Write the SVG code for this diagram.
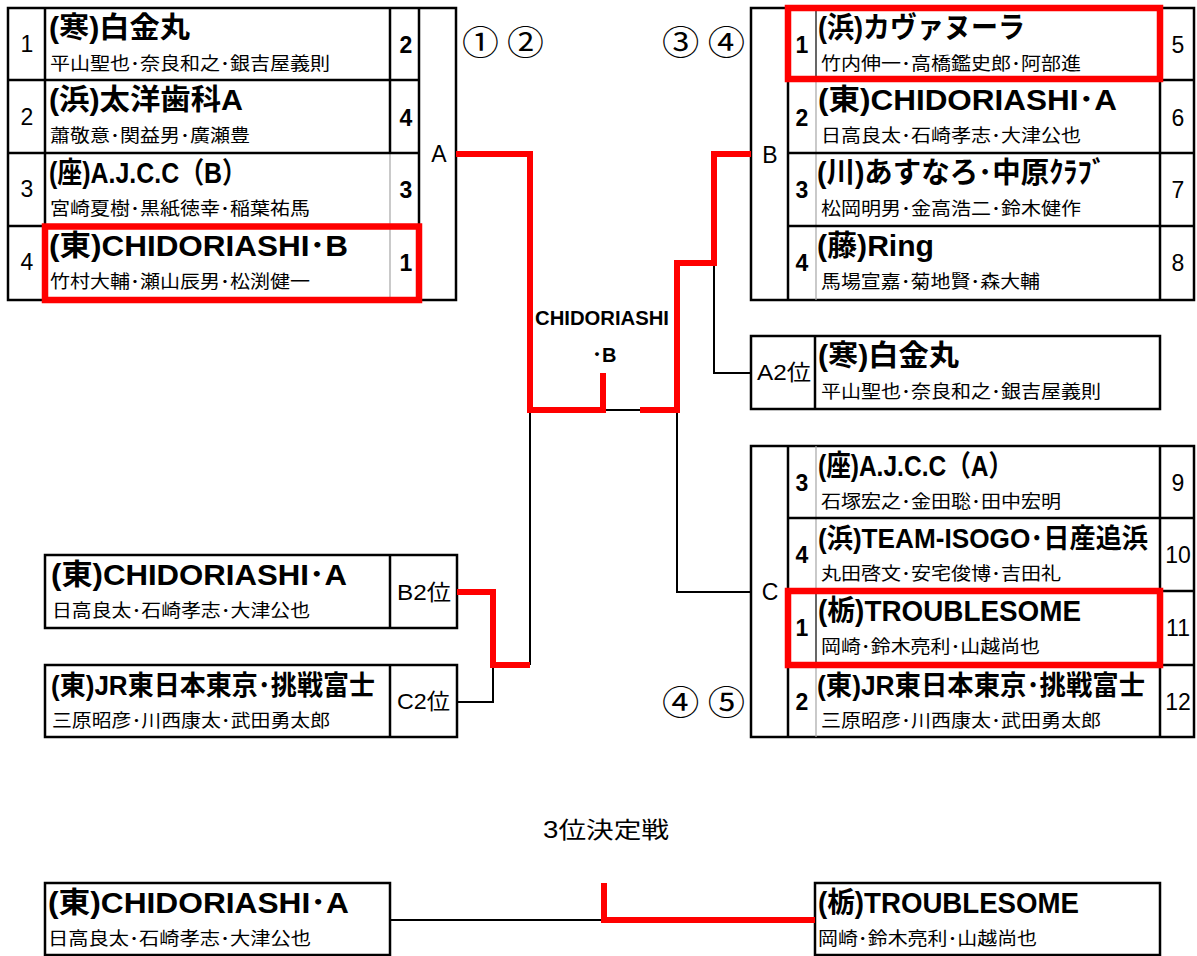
<svg xmlns="http://www.w3.org/2000/svg" width="1197" height="956" viewBox="0 0 1197 956">
<style>
text{font-family:"Liberation Sans","Noto Sans CJK JP",sans-serif;fill:#000}
.t{font-size:29px;font-weight:bold}
.ts{font-size:27px;font-weight:bold}
.p{font-size:18px}
.n{font-size:23px;text-anchor:middle}
.nb{font-size:23px;font-weight:bold;text-anchor:middle}
.lab{font-size:23px;text-anchor:middle}
.pos{font-size:22px}
.cir{font-family:"Noto Sans CJK JP",sans-serif;font-size:34px}
.mid{font-size:20px;font-weight:bold}
.fr{fill:none;stroke:#000;stroke-width:2.5}
.ln{stroke:#000;stroke-width:2.5;fill:none}
.th{stroke:#000;stroke-width:1.2;fill:none}
.gr{stroke:#a6a6a6;stroke-width:1.2;fill:none}
.cn{stroke:#000;stroke-width:2;fill:none}
.rd{stroke:#ff0000;stroke-width:6;fill:none;stroke-linejoin:miter;stroke-linecap:butt}
.hl{fill:none;stroke:#ff0000;stroke-width:6.5}
</style>

<!-- Block A frame -->
<g id="block-a">
<rect class="fr" x="8" y="8" width="448" height="292"/>
<line class="ln" x1="45" y1="8" x2="45" y2="300"/>
<line class="ln" x1="390" y1="8" x2="390" y2="153"/>
<line class="gr" x1="390" y1="153" x2="390" y2="300"/>
<line class="ln" x1="419" y1="8" x2="419" y2="300"/>
<line class="ln" x1="8" y1="80" x2="419" y2="80"/>
<line class="ln" x1="8" y1="153" x2="419" y2="153"/>
<line class="ln" x1="8" y1="226" x2="419" y2="226"/>
<text class="lab" x="439" y="162">A</text>
<text class="cir" x="462" y="55" textLength="82" lengthAdjust="spacingAndGlyphs">① ②</text>
</g>
<g id="a1">
<text class="n" x="27" y="52">1</text>
<text class="t" x="49" y="38" textLength="141" lengthAdjust="spacingAndGlyphs">(寒)白金丸</text>
<text class="p" x="50" y="70" textLength="280" lengthAdjust="spacingAndGlyphs">平山聖也･奈良和之･銀吉屋義則</text>
<text class="nb" x="406" y="53">2</text>
</g>
<g id="a2">
<text class="n" x="27" y="125">2</text>
<text class="t" x="49" y="110" textLength="194" lengthAdjust="spacingAndGlyphs">(浜)太洋歯科A</text>
<text class="p" x="50" y="142" textLength="200" lengthAdjust="spacingAndGlyphs">蕭敬意･関益男･廣瀬豊</text>
<text class="nb" x="406" y="126">4</text>
</g>
<g id="a3">
<text class="n" x="27" y="197">3</text>
<text class="t" x="49" y="183" textLength="198" lengthAdjust="spacingAndGlyphs">(座)A.J.C.C（B）</text>
<text class="p" x="50" y="215" textLength="260" lengthAdjust="spacingAndGlyphs">宮崎夏樹･黒紙徳幸･稲葉祐馬</text>
<text class="nb" x="406" y="198">3</text>
</g>
<g id="a4">
<text class="n" x="27" y="270">4</text>
<text class="t" x="49" y="256" textLength="299" lengthAdjust="spacingAndGlyphs">(東)CHIDORIASHI･B</text>
<text class="p" x="50" y="288" textLength="260" lengthAdjust="spacingAndGlyphs">竹村大輔･瀬山辰男･松渕健一</text>
<text class="nb" x="406" y="271">1</text>
<rect class="hl" x="45" y="226.5" width="374" height="73.5"/>
</g>

<!-- Block B frame -->
<g id="block-b">
<rect class="fr" x="751" y="8" width="443" height="292"/>
<line class="ln" x1="788" y1="8" x2="788" y2="300"/>
<line class="th" x1="816" y1="8" x2="816" y2="80"/>
<line class="gr" x1="816" y1="80" x2="816" y2="300"/>
<line class="ln" x1="1160" y1="8" x2="1160" y2="300"/>
<line class="ln" x1="788" y1="80" x2="1194" y2="80"/>
<line class="ln" x1="788" y1="153" x2="1194" y2="153"/>
<line class="ln" x1="788" y1="226" x2="1194" y2="226"/>
<text class="lab" x="770" y="163">B</text>
<text class="cir" x="662" y="55" textLength="83" lengthAdjust="spacingAndGlyphs">③ ④</text>
</g>
<g id="b1">
<text class="nb" x="802" y="53">1</text>
<text class="t" x="818" y="38" textLength="207" lengthAdjust="spacingAndGlyphs">(浜)カヴァヌーラ</text>
<text class="p" x="821" y="70" textLength="260" lengthAdjust="spacingAndGlyphs">竹内伸一･高橋鑑史郎･阿部進</text>
<text class="n" x="1178" y="53">5</text>
<rect class="hl" x="788" y="8" width="372" height="71"/>
</g>
<g id="b2">
<text class="nb" x="802" y="126">2</text>
<text class="t" x="818" y="110" textLength="299" lengthAdjust="spacingAndGlyphs">(東)CHIDORIASHI･A</text>
<text class="p" x="821" y="142" textLength="260" lengthAdjust="spacingAndGlyphs">日高良太･石崎孝志･大津公也</text>
<text class="n" x="1178" y="126">6</text>
</g>
<g id="b3">
<text class="nb" x="802" y="198">3</text>
<text class="t" x="817" y="183" textLength="289" lengthAdjust="spacingAndGlyphs">(川)あすなろ･中原ｸﾗﾌﾞ</text>
<text class="p" x="821" y="215" textLength="260" lengthAdjust="spacingAndGlyphs">松岡明男･金高浩二･鈴木健作</text>
<text class="n" x="1178" y="198">7</text>
</g>
<g id="b4">
<text class="nb" x="802" y="271">4</text>
<text class="t" x="817" y="256" textLength="117" lengthAdjust="spacingAndGlyphs">(藤)Ring</text>
<text class="p" x="821" y="288" textLength="219" lengthAdjust="spacingAndGlyphs">馬場宣嘉･菊地賢･森大輔</text>
<text class="n" x="1178" y="271">8</text>
</g>

<!-- A2 -->
<g id="a2-seed">
<rect class="fr" x="751" y="336" width="409" height="73"/>
<line class="ln" x1="815" y1="336" x2="815" y2="409"/>
<text class="pos" x="757" y="380" textLength="54" lengthAdjust="spacingAndGlyphs">A2位</text>
<text class="t" x="818" y="366" textLength="141" lengthAdjust="spacingAndGlyphs">(寒)白金丸</text>
<text class="p" x="821" y="398" textLength="280" lengthAdjust="spacingAndGlyphs">平山聖也･奈良和之･銀吉屋義則</text>
</g>

<!-- Block C frame -->
<g id="block-c">
<rect class="fr" x="751" y="446" width="443" height="291"/>
<line class="ln" x1="788" y1="446" x2="788" y2="737"/>
<line class="gr" x1="816" y1="446" x2="816" y2="591"/>
<line class="th" x1="816" y1="591" x2="816" y2="665"/>
<line class="gr" x1="816" y1="665" x2="816" y2="737"/>
<line class="ln" x1="1160" y1="446" x2="1160" y2="737"/>
<line class="ln" x1="788" y1="518" x2="1194" y2="518"/>
<line class="ln" x1="788" y1="591" x2="1194" y2="591"/>
<line class="ln" x1="788" y1="665" x2="1194" y2="665"/>
<text class="lab" x="770" y="600">C</text>
<text class="cir" x="662" y="715" textLength="83" lengthAdjust="spacingAndGlyphs">④ ⑤</text>
</g>
<g id="c1">
<text class="nb" x="802" y="491">3</text>
<text class="t" x="818" y="476" textLength="195" lengthAdjust="spacingAndGlyphs">(座)A.J.C.C（A）</text>
<text class="p" x="821" y="508" textLength="240" lengthAdjust="spacingAndGlyphs">石塚宏之･金田聡･田中宏明</text>
<text class="n" x="1178" y="491">9</text>
</g>
<g id="c2">
<text class="nb" x="802" y="563">4</text>
<text class="ts" x="818" y="548" textLength="330" lengthAdjust="spacingAndGlyphs">(浜)TEAM-ISOGO･日産追浜</text>
<text class="p" x="821" y="580" textLength="240" lengthAdjust="spacingAndGlyphs">丸田啓文･安宅俊博･吉田礼</text>
<text class="n" x="1178" y="563">10</text>
</g>
<g id="c3">
<text class="nb" x="802" y="636">1</text>
<text class="t" x="818" y="621" textLength="263" lengthAdjust="spacingAndGlyphs">(栃)TROUBLESOME</text>
<text class="p" x="821" y="653" textLength="219" lengthAdjust="spacingAndGlyphs">岡崎･鈴木亮利･山越尚也</text>
<text class="n" x="1178" y="636">11</text>
<rect class="hl" x="788" y="591" width="372" height="74"/>
</g>
<g id="c4">
<text class="nb" x="802" y="710">2</text>
<text class="ts" x="817" y="695" textLength="328" lengthAdjust="spacingAndGlyphs">(東)JR東日本東京･挑戦富士</text>
<text class="p" x="821" y="727" textLength="280" lengthAdjust="spacingAndGlyphs">三原昭彦･川西康太･武田勇太郎</text>
<text class="n" x="1178" y="710">12</text>
</g>

<!-- B2 / C2 seeds -->
<g id="b2-seed">
<rect class="fr" x="45" y="555" width="412" height="73"/>
<line class="ln" x1="390" y1="555" x2="390" y2="628"/>
<text class="t" x="51" y="585" textLength="296" lengthAdjust="spacingAndGlyphs">(東)CHIDORIASHI･A</text>
<text class="p" x="52" y="617" textLength="258" lengthAdjust="spacingAndGlyphs">日高良太･石崎孝志･大津公也</text>
<text class="pos" x="397" y="600" textLength="54" lengthAdjust="spacingAndGlyphs">B2位</text>
</g>
<g id="c2-seed">
<rect class="fr" x="45" y="665" width="412" height="72"/>
<line class="ln" x1="390" y1="665" x2="390" y2="737"/>
<text class="ts" x="51" y="695" textLength="324" lengthAdjust="spacingAndGlyphs">(東)JR東日本東京･挑戦富士</text>
<text class="p" x="52" y="727" textLength="278" lengthAdjust="spacingAndGlyphs">三原昭彦･川西康太･武田勇太郎</text>
<text class="pos" x="397" y="709" textLength="53" lengthAdjust="spacingAndGlyphs">C2位</text>
</g>

<!-- Champion label -->
<g id="champion">
<text class="mid" x="535" y="325" textLength="134" lengthAdjust="spacingAndGlyphs">CHIDORIASHI</text>
<text class="mid" x="592" y="362">･B</text>
</g>

<!-- Third place -->
<g id="third-title">
<text x="606" y="838" font-size="23" text-anchor="middle" textLength="126" lengthAdjust="spacingAndGlyphs">3位決定戦</text>
</g>
<g id="third-left">
<rect class="fr" x="45" y="883" width="345" height="72"/>
<text class="t" x="48" y="913" textLength="301" lengthAdjust="spacingAndGlyphs">(東)CHIDORIASHI･A</text>
<text class="p" x="48" y="945" textLength="263" lengthAdjust="spacingAndGlyphs">日高良太･石崎孝志･大津公也</text>
</g>
<g id="third-right">
<rect class="fr" x="815" y="883" width="345" height="72"/>
<text class="t" x="818" y="913" textLength="261" lengthAdjust="spacingAndGlyphs">(栃)TROUBLESOME</text>
<text class="p" x="818" y="945" textLength="219" lengthAdjust="spacingAndGlyphs">岡崎･鈴木亮利･山越尚也</text>
</g>

<!-- Connectors -->
<g id="connectors">
<path class="cn" d="M603,410 H642"/>
<path class="cn" d="M530,410 V665"/>
<path class="cn" d="M457,702 H493 V665"/>
<path class="cn" d="M677,410 V592 H751"/>
<path class="cn" d="M714,263 V373 H751"/>
<path class="cn" d="M390,920 H604"/>
<path class="rd" d="M456,154 H530 V410 H603 V373"/>
<path class="rd" d="M640,410 H677 V263 H714 V154 H751"/>
<path class="rd" d="M457,592 H493 V665 H530"/>
<path class="rd" d="M604,883 V920 H815"/>
</g>
</svg>
